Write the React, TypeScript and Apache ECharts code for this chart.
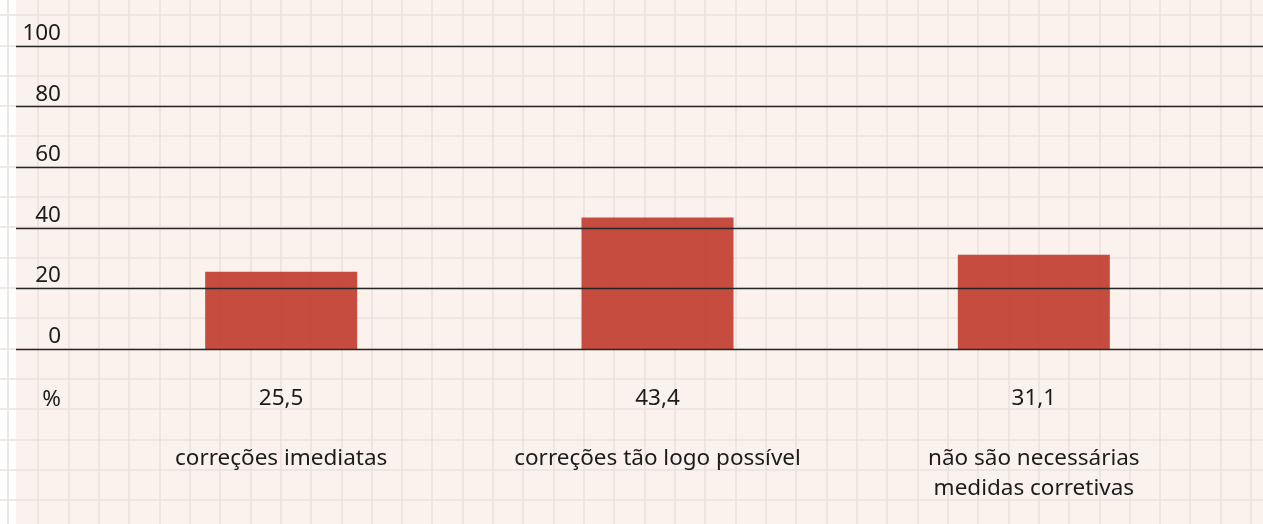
import React, { useEffect, useRef } from "react";
import * as echarts from "echarts";

const categories = ["correções imediatas", "correções tão logo possível", "não são necessárias\nmedidas corretivas"];
const values = [25.5, 43.4, 31.1];
const yTicks = [0, 20, 40, 60, 80, 100];
const unitLabel = "%";

const W = 1263;
const H = 524;
const FONT = "'Noto Sans', 'Open Sans', sans-serif";
const FS = 22.5;
const TEXT = "#1c1c1c";

function fmt(v: number) {
  return v.toFixed(1).replace(".", ",");
}

function backgroundGrid() {
  const els: any[] = [];
  els.push({ type: "rect", z: -20, silent: true, shape: { x: 0, y: 0, width: W, height: H }, style: { fill: "#ffffff" } });
  els.push({ type: "rect", z: -19, silent: true, shape: { x: 16, y: 0, width: W - 16, height: H }, style: { fill: "#fcf2ed" } });
  const step = 30.32;
  for (let x = 8; x < W; x += step) {
    els.push({ type: "line", z: -18, silent: true, shape: { x1: Math.round(x), y1: 0, x2: Math.round(x), y2: H }, style: { stroke: "#ebe1dc", lineWidth: 1.6 } });
  }
  for (let y = 15.2; y < H; y += step) {
    els.push({ type: "line", z: -18, silent: true, shape: { x1: 0, y1: Math.round(y), x2: W, y2: Math.round(y) }, style: { stroke: "#ebe1dc", lineWidth: 1.6 } });
  }
  els.push({
    type: "text",
    z: 10,
    silent: true,
    style: { text: unitLabel, x: 61, y: 397, align: "right", verticalAlign: "middle", font: `${FS}px ${FONT}`, fill: TEXT },
  });
  return els;
}

export default function App() {
  const ref = useRef<HTMLDivElement>(null);
  useEffect(() => {
    if (!ref.current) return;
    const chart = echarts.init(ref.current, undefined, { renderer: "svg" });
    chart.setOption({
      animation: false,
      graphic: backgroundGrid(),
      grid: [
        { left: 93, right: 41, top: 46, bottom: 175 },
        { left: 16, right: 0, top: 46, bottom: 175 },
      ],
      xAxis: [
        {
          type: "category",
          gridIndex: 0,
          data: categories,
          axisLine: { show: false },
          axisTick: { show: false },
          axisLabel: { margin: 92, fontSize: FS, lineHeight: 30, color: TEXT, fontFamily: FONT, interval: 0 },
        },
        {
          type: "category",
          gridIndex: 0,
          position: "bottom",
          data: categories,
          axisLine: { show: false },
          axisTick: { show: false },
          axisLabel: {
            margin: 32,
            fontSize: FS,
            lineHeight: 30,
            color: TEXT,
            fontFamily: FONT,
            interval: 0,
            formatter: (_: string, i: number) => fmt(values[i]),
          },
        },
        { type: "value", gridIndex: 1, show: false, min: 0, max: 1 },
      ],
      yAxis: [
        { type: "value", gridIndex: 0, min: 0, max: 100, interval: 20, show: false },
        {
          type: "value",
          gridIndex: 1,
          min: yTicks[0],
          max: yTicks[yTicks.length - 1],
          interval: 20,
          z: 5,
          axisLine: { show: false },
          axisTick: { show: false },
          splitLine: { show: true, lineStyle: { color: "#262626", width: 1.3 } },
          axisLabel: {
            inside: true,
            margin: 45,
            align: "right",
            verticalAlign: "bottom",
            padding: [0, 0, 3, 0],
            fontSize: FS,
            color: TEXT,
            fontFamily: FONT,
          },
        },
      ],
      series: [
        {
          type: "bar",
          xAxisIndex: 0,
          yAxisIndex: 0,
          data: values,
          barWidth: 152,
          z: 2,
          itemStyle: { color: "#bf3a2b", opacity: 0.9 },
        },
      ],
    });
    return () => chart.dispose();
  }, []);
  return <div ref={ref} style={{ position: "fixed", left: 0, top: 0, width: W, height: H }} />;
}
